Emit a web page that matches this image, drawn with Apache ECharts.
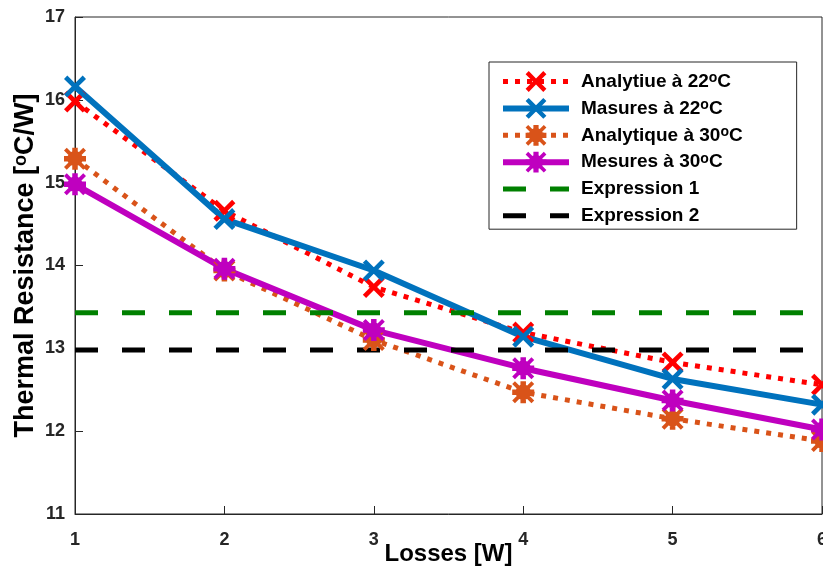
<!DOCTYPE html>
<html><head><meta charset="utf-8">
<script src="https://cdn.jsdelivr.net/npm/echarts@6/dist/echarts.min.js"></script>
<style>html,body{margin:0;padding:0;background:#fff}#c{width:823px;height:578px}</style>
</head><body><div id="c"></div>
<script>
const losses = [1, 2, 3, 4, 5, 6];
const analytique22 = [15.98, 14.66, 13.74, 13.19, 12.83, 12.56];
const mesures22 = [16.16, 14.56, 13.94, 13.14, 12.63, 12.32];
const analytique30 = [15.29, 13.94, 13.10, 12.47, 12.15, 11.88];
const mesures30 = [14.98, 13.96, 13.22, 12.76, 12.37, 12.02];
const expression1 = 13.43;
const expression2 = 12.98;
const yTicks = [11, 12, 13, 14, 15, 16, 17];
const names = ['Analytiue à 22°C', 'Masures à 22°C', 'Analytique à 30°C', 'Mesures à 30°C', 'Expression 1', 'Expression 2'];

const crossPath = 'path://M3,0 L10,7 L17,0 L20,3 L13,10 L20,17 L17,20 L10,13 L3,20 L0,17 L7,10 L0,3 Z';
const starPath = 'path://M7.5,0 L12.5,0 L12.5,20 L7.5,20 Z M0,7.5 L20,7.5 L20,12.5 L0,12.5 Z M2.5,0 L20,17.5 L17.5,20 L0,2.5 Z M17.5,0 L20,2.5 L2.5,20 L0,17.5 Z M10,3 A7,7 0 1 1 9.99,3 Z';

function pairs(vals){ return losses.map((x,i)=>[x, vals[i]]); }
function hline(v){ return [[losses[0], v], [losses[losses.length-1], v]]; }

const chart = echarts.init(document.getElementById('c'));
const font = 'Liberation Sans, Arial, sans-serif';
const legendWidths = [5, 6, 5, 6, 5, 5];
chart.setOption({
  animation: false,
  grid: { left: 75, right: 1, top: 17, bottom: 64, outerBoundsMode: 'none', containLabel: false,
          show: true, borderColor: '#262626', borderWidth: 1 },
  xAxis: {
    type: 'value', min: 1, max: 6, interval: 1,
    name: 'Losses [W]', nameLocation: 'middle', nameGap: 28, nameMoveOverlap: false,
    nameTextStyle: { fontFamily: font, fontWeight: 'bold', fontSize: 24, color: '#000' },
    axisLine: { lineStyle: { color: '#262626', width: 1 } },
    axisTick: { inside: true, length: 8, lineStyle: { color: '#262626' } },
    axisLabel: { fontFamily: font, fontWeight: 'bold', fontSize: 18, color: '#262626', margin: 17 },
    splitLine: { show: false }
  },
  yAxis: {
    type: 'value', min: 11, max: 17, interval: 1,
    name: '{n|Thermal Resistance [}{s|o}{n|C/W]}', nameLocation: 'middle', nameGap: 35, nameMoveOverlap: false,
    nameTextStyle: { rich: {
      n: { fontFamily: font, fontWeight: 'bold', fontSize: 27, color: '#000' },
      s: { fontFamily: font, fontWeight: 'bold', fontSize: 18, color: '#000', verticalAlign: 'top', padding: [0,0,10,0] }
    } },
    axisLine: { lineStyle: { color: '#262626', width: 1 } },
    axisTick: { inside: true, length: 8, lineStyle: { color: '#262626' } },
    axisLabel: { fontFamily: font, fontWeight: 'bold', fontSize: 18, color: '#262626', margin: 10,
      formatter: v => yTicks.includes(v) ? String(v) : '' },
    splitLine: { show: false }
  },
  legend: {
    orient: 'vertical', left: 489, top: 62,
    backgroundColor: '#fff', borderColor: '#262626', borderWidth: 1,
    padding: [9, 54, 3, 11],
    itemWidth: 66, itemHeight: 26, itemGap: 6,
    data: names.map((n, i) => i >= 4
      ? { name: n, lineStyle: { width: legendWidths[i] }, itemStyle: { color: 'transparent', borderWidth: 0 } }
      : { name: n, lineStyle: { width: legendWidths[i] } }),
    formatter: function(n){
      const k = n.indexOf('°C');
      return k >= 0 ? '{f|' + n.slice(0, k) + '}{s|o}{t|C}' : '{f|' + n + '}';
    },
    textStyle: { fontFamily: font, fontWeight: 'bold', fontSize: 19, color: '#000',
      rich: { f: { fontFamily: font, fontWeight: 'bold', fontSize: 19, color: '#000', padding: [0,0,0,7] },
              t: { fontFamily: font, fontWeight: 'bold', fontSize: 19, color: '#000' },
              s: { fontFamily: font, fontWeight: 'bold', fontSize: 14, color: '#000', verticalAlign: 'top', padding: [0,0,7,0] } } }
  },
  series: [
    { name: names[0], type: 'line', data: pairs(analytique22), symbol: crossPath, symbolSize: 22,
      lineStyle: { color: '#ff0000', width: 5, type: [5, 7], cap: 'butt' }, itemStyle: { color: '#ff0000' } },
    { name: names[1], type: 'line', data: pairs(mesures22), symbol: crossPath, symbolSize: 22,
      lineStyle: { color: '#0072bd', width: 6 }, itemStyle: { color: '#0072bd' } },
    { name: names[2], type: 'line', data: pairs(analytique30), symbol: starPath, symbolSize: 22,
      lineStyle: { color: '#d95319', width: 5, type: [5, 7], cap: 'butt' }, itemStyle: { color: '#d95319' } },
    { name: names[3], type: 'line', data: pairs(mesures30), symbol: starPath, symbolSize: 22,
      lineStyle: { color: '#bf00bf', width: 6 }, itemStyle: { color: '#bf00bf' } },
    { name: names[4], type: 'line', data: hline(expression1), symbol: 'none',
      lineStyle: { color: '#008000', width: 5, type: [23, 24], cap: 'butt' }, itemStyle: { color: '#008000' } },
    { name: names[5], type: 'line', data: hline(expression2), symbol: 'none',
      lineStyle: { color: '#000000', width: 5, type: [23, 24], cap: 'butt' }, itemStyle: { color: '#000000' } }
  ]
});
</script></body></html>
